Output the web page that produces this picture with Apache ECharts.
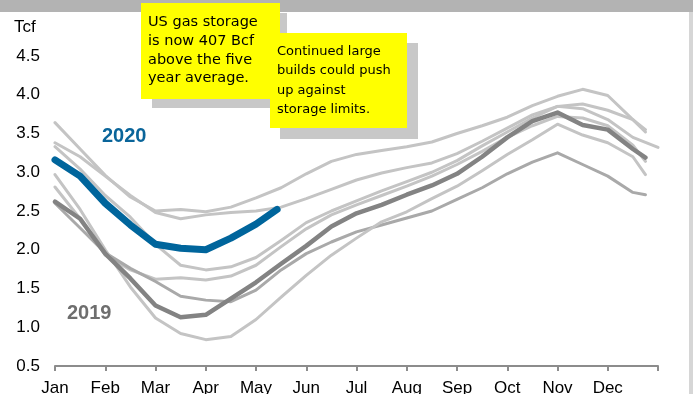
<!DOCTYPE html>
<html>
<head>
<meta charset="utf-8">
<script src="https://cdn.jsdelivr.net/npm/echarts@6/dist/echarts.min.js"></script>
<style>
  html, body { margin: 0; padding: 0; background: #fff; }
  #chart { width: 693px; height: 394px; }
</style>
</head>
<body>
<div id="chart"></div>
<script>
// x positions in months from Jan 1 (0 = Jan, 12 = end of Dec)
const months = [0, 0.5, 1, 1.5, 2, 2.5, 3, 3.5, 4, 4.5, 5, 5.5, 6, 6.5, 7, 7.5, 8, 8.5, 9, 9.5, 10, 10.5, 11, 11.5, 11.75];
const monthsLong = [0, 0.5, 1, 1.5, 2, 2.5, 3, 3.5, 4, 4.5, 5, 5.5, 6, 6.5, 7, 7.5, 8, 8.5, 9, 9.5, 10, 10.5, 11, 11.5, 12];
const months2020 = [0, 0.5, 1, 1.5, 2, 2.5, 3, 3.5, 4, 4.42];
const monthNames = ['Jan', 'Feb', 'Mar', 'Apr', 'May', 'Jun', 'Jul', 'Aug', 'Sep', 'Oct', 'Nov', 'Dec'];

// storage, Tcf — earlier years (grey)
const yearA = [3.64, 3.3, 2.96, 2.68, 2.5, 2.52, 2.49, 2.55, 2.67, 2.8, 2.98, 3.14, 3.23, 3.28, 3.33, 3.39, 3.5, 3.6, 3.71, 3.86, 3.98, 4.07, 3.99, 3.68, 3.52];
const yearB = [3.38, 3.2, 2.95, 2.7, 2.48, 2.4, 2.45, 2.48, 2.5, 2.55, 2.66, 2.78, 2.9, 2.99, 3.06, 3.12, 3.24, 3.4, 3.57, 3.74, 3.85, 3.88, 3.8, 3.68, 3.55];
const yearC = [3.33, 3.04, 2.7, 2.42, 2.07, 1.8, 1.74, 1.78, 1.9, 2.12, 2.35, 2.5, 2.63, 2.76, 2.88, 3.0, 3.15, 3.34, 3.52, 3.7, 3.85, 3.82, 3.68, 3.45, 3.32];
const yearD = [2.81, 2.4, 1.93, 1.74, 1.62, 1.64, 1.61, 1.66, 1.8, 2.04, 2.27, 2.45, 2.58, 2.7, 2.82, 2.95, 3.1, 3.27, 3.45, 3.6, 3.72, 3.7, 3.6, 3.35, 3.14];
const yearE = [2.6, 2.28, 1.96, 1.76, 1.59, 1.4, 1.35, 1.33, 1.48, 1.74, 1.95, 2.1, 2.23, 2.32, 2.41, 2.5, 2.65, 2.8, 2.98, 3.13, 3.25, 3.1, 2.95, 2.74, 2.71];
const yearF = [2.97, 2.52, 2.0, 1.52, 1.12, 0.92, 0.84, 0.88, 1.1, 1.39, 1.67, 1.93, 2.15, 2.36, 2.49, 2.66, 2.82, 3.02, 3.23, 3.42, 3.62, 3.48, 3.38, 3.2, 2.97];
const year2019 = [2.62, 2.4, 1.95, 1.63, 1.28, 1.13, 1.16, 1.37, 1.58, 1.82, 2.05, 2.3, 2.47, 2.58, 2.71, 2.83, 2.98, 3.2, 3.45, 3.66, 3.77, 3.61, 3.55, 3.3, 3.19];
const year2020 = [3.16, 2.95, 2.6, 2.32, 2.07, 2.02, 2.0, 2.15, 2.33, 2.52];

const zip = (xs, ys) => ys.map((v, i) => [xs[i], v]);

function line(name, xs, ys, color, width, z) {
  return {
    name,
    type: 'line',
    data: zip(xs, ys),
    showSymbol: false,
    silent: true,
    z,
    lineStyle: { color, width, cap: 'round', join: 'round' },
  };
}

const chart = echarts.init(document.getElementById('chart'));
const noteFont = "'DejaVu Sans', sans-serif";
const axisFont = "'Liberation Sans', Arial, sans-serif";

chart.setOption({
  animation: false,
  // labels may run past the bottom edge, as in the source picture
  grid: { left: 55, right: 35, top: 56, bottom: 28, containLabel: false, outerBoundsMode: 'none' },
  xAxis: {
    type: 'value',
    min: 0,
    max: 12,
    interval: 1,
    axisLine: { lineStyle: { color: '#8c8c8c', width: 2 } },
    axisTick: { show: true, length: 5, lineStyle: { color: '#8c8c8c', width: 2 } },
    splitLine: { show: false },
    axisLabel: {
      margin: 14,
      color: '#000',
      fontSize: 17,
      fontFamily: axisFont,
      showMaxLabel: true,
      formatter: (v) => monthNames[Math.round(v)] || '',
    },
  },
  yAxis: {
    type: 'value',
    min: 0.5,
    max: 4.5,
    interval: 0.5,
    axisLine: { show: false },
    axisTick: { show: false },
    splitLine: { show: false },
    axisLabel: {
      margin: 15,
      color: '#000',
      fontSize: 17,
      fontFamily: axisFont,
      formatter: (v) => v.toFixed(1),
    },
  },
  series: [
    line('A', months, yearA, '#c4c4c4', 3, 2),
    line('B', months, yearB, '#c4c4c4', 3, 2),
    line('C', monthsLong, yearC, '#c4c4c4', 3, 2),
    line('D', months, yearD, '#c4c4c4', 3, 2),
    line('E', months, yearE, '#a9a9a9', 3, 2),
    line('F', months, yearF, '#c4c4c4', 3, 2),
    line('2019', months, year2019, '#838383', 4.5, 3),
    line('2020', months2020, year2020, '#00659c', 7, 4),
  ],
  graphic: [
    // frame bits
    { type: 'rect', shape: { x: 0, y: 0, width: 693, height: 12 }, style: { fill: '#b3b3b3' }, z: 1 },
    { type: 'rect', shape: { x: 689, y: 12, width: 4, height: 382 }, style: { fill: '#d6d6d6' }, z: 1 },
    { type: 'text', left: 14, top: 19, style: { text: 'Tcf', fontSize: 17, fontFamily: axisFont, fill: '#000' } },
    // series labels
    { type: 'text', left: 102, top: 126, style: { text: '2020', fontSize: 20, fontWeight: 'bold', fontFamily: axisFont, fill: '#0a659a' }, z: 10 },
    { type: 'text', left: 67, top: 303, style: { text: '2019', fontSize: 20, fontWeight: 'bold', fontFamily: axisFont, fill: '#6e6e6e' }, z: 10 },
    // note 1
    { type: 'rect', shape: { x: 152, y: 13, width: 135, height: 95 }, style: { fill: '#c8c8c8' }, z: 20 },
    { type: 'rect', shape: { x: 141, y: 3, width: 139, height: 96 }, style: { fill: '#ffff00' }, z: 21 },
    {
      type: 'text', left: 148, top: 13, z: 22,
      style: { text: 'US gas storage\nis now 407 Bcf\nabove the five\nyear average.', fontSize: 14.5, lineHeight: 18.7, fontFamily: noteFont, fill: '#000' },
    },
    // note 2
    { type: 'rect', shape: { x: 280, y: 43, width: 138, height: 96 }, style: { fill: '#c8c8c8' }, z: 23 },
    { type: 'rect', shape: { x: 270, y: 33, width: 137, height: 95 }, style: { fill: '#ffff00' }, z: 24 },
    {
      type: 'text', left: 277, top: 42, z: 25,
      style: { text: 'Continued large\nbuilds could push\nup against\nstorage limits.', fontSize: 13, lineHeight: 19.3, fontFamily: noteFont, fill: '#000' },
    },
  ],
});
</script>
</body>
</html>
